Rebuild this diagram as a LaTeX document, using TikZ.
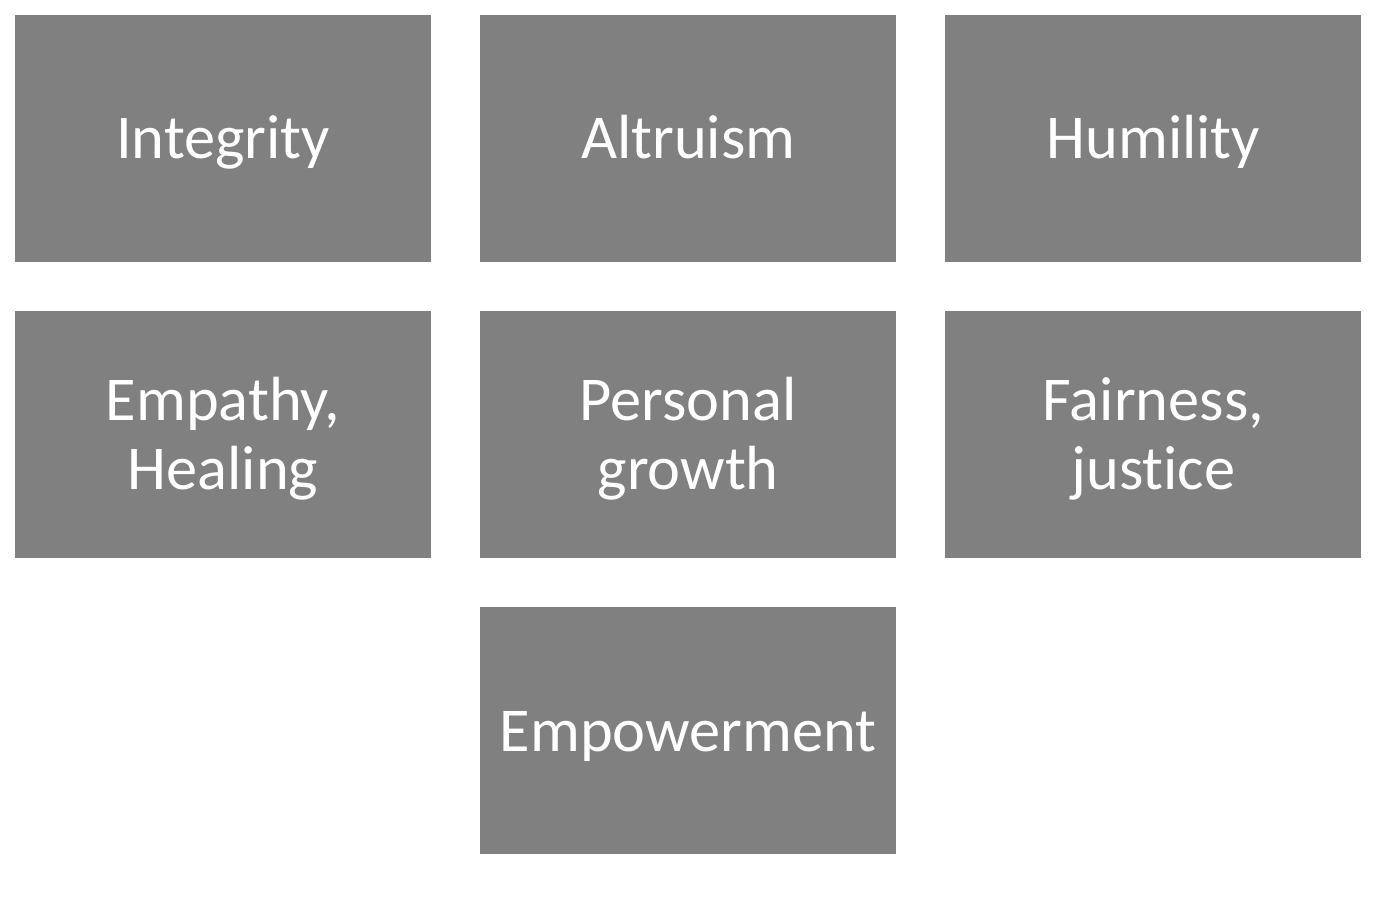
\documentclass[tikz,border=0pt]{standalone}
\usepackage{fontspec}
\setmainfont{Carlito}[Ligatures=NoCommon]
\usetikzlibrary{positioning}
\tikzset{
	valuebox/.style={
		rectangle,
		fill=black!50,
		text=white,
		minimum width=8.32cm,
		minimum height=4.94cm,
		inner sep=0pt,
		align=center,
		font=\fontsize{35.5}{39.5}\selectfont,
		text height=22.9pt,
		text depth=0pt
	},
	twoline/.style={text height=62.4pt}
}
\begin{document}
\begin{tikzpicture}[node distance=0.97cm]
	\useasboundingbox (0,0) rectangle (27.64,-18);
	\node[valuebox] (integrity) at (4.46,-2.77) {Integrity};
	\node[valuebox,right=of integrity] (altruism) {Altruism};
	\node[valuebox,right=of altruism] (humility) {Humility};
	\node[valuebox,twoline,below=of integrity] (empathy) {Empathy,\\Healing};
	\node[valuebox,twoline,below=of altruism] (growth) {Personal\\growth};
	\node[valuebox,twoline,below=of humility] (fairness) {Fairness,\\justice};
	\node[valuebox,below=of growth] (empowerment) {Empowerment};
\end{tikzpicture}
\end{document}
